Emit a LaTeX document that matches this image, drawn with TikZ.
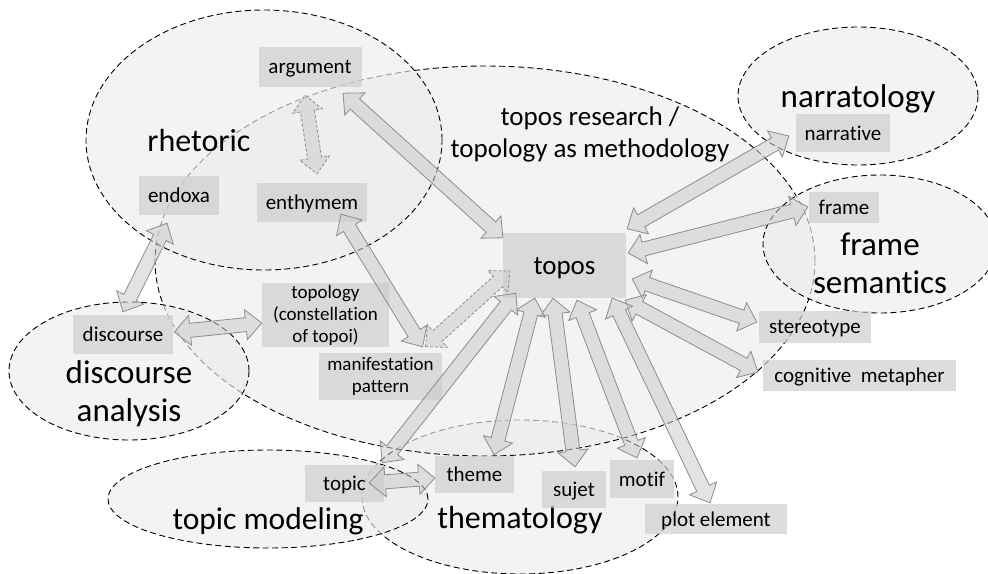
\documentclass[tikz,border=0pt]{standalone}
\usepackage{fontspec}
\setmainfont{Carlito}[Ligatures={NoCommon}]
\usetikzlibrary{calc}

\definecolor{fieldgray}{HTML}{ECECEC}
\definecolor{boxgray}{HTML}{CFCFCF}
\definecolor{arrowfill}{HTML}{CCCCCC}
\definecolor{arrowline}{HTML}{8C8C8C}

\tikzset{
  field/.style={draw=black, line width=0.9pt, dash pattern=on 6pt off 3.5pt,
    fill=fieldgray, fill opacity=0.65},
  boxbase/.style={fill=boxgray, fill opacity=0.7, text opacity=1, inner sep=0pt,
    align=center},
  term/.style={boxbase, text depth=0pt, font=\fontsize{21}{25}\selectfont},
  smallterm/.style={boxbase, font=\fontsize{19}{22}\selectfont},
  heading/.style={inner sep=0pt, align=center, font=\fontsize{33}{38}\selectfont},
  blockarrow/.style={draw=arrowline, line width=0.8pt, fill=arrowfill,
    fill opacity=0.55, line join=miter},
  dashedarrow/.style={dash pattern=on 3pt off 2pt}
}

% double-headed block arrow between two named points
\newcommand\dblarrow[3][]{%
  \draw[blockarrow,#1] (#2)
    -- ($(#2)!16pt!(#3)!15pt!90:(#3)$)
    -- ($(#2)!16pt!(#3)!7pt!90:(#3)$)
    -- ($(#3)!16pt!(#2)!7pt!-90:(#2)$)
    -- ($(#3)!16pt!(#2)!15pt!-90:(#2)$)
    -- (#3)
    -- ($(#3)!16pt!(#2)!15pt!90:(#2)$)
    -- ($(#3)!16pt!(#2)!7pt!90:(#2)$)
    -- ($(#2)!16pt!(#3)!7pt!-90:(#3)$)
    -- ($(#2)!16pt!(#3)!15pt!-90:(#3)$)
    -- cycle;}

\begin{document}
\begin{tikzpicture}[x=1pt, y=-1pt]
\clip (0,0) rectangle (988,573);

% research fields
\draw[field] (520,497) ellipse [x radius=158pt, y radius=77pt];
\draw[field] (485,261) ellipse [x radius=330pt, y radius=195pt];
\draw[field] (264,140) ellipse [x radius=178pt, y radius=130pt];
\draw[field] (129,371) ellipse [x radius=120pt, y radius=69pt];
\draw[field] (268,499) ellipse [x radius=160pt, y radius=49pt];
\draw[field] (858,96) ellipse [x radius=120pt, y radius=69pt];
\draw[field] (880,244) ellipse [x radius=117pt, y radius=69pt];

% field headings
\node[heading, font=\fontsize{32}{38}\selectfont] (rhetoric) at (199,141) {rhetoric};
\node[heading, font=\fontsize{27}{32}\selectfont] (research) at (590,134)
  {topos research /\\topology as methodology};
\node[heading] (narratology) at (858,99) {narratology};
\node[heading] (framesem) at (880,263) {frame\\semantics};
\node[heading] (discanalysis) at (129,394) {discourse\\analysis};
\node[heading, font=\fontsize{31.5}{38}\selectfont] (topicmodeling) at (268,521) {topic modeling};
\node[heading, font=\fontsize{32}{38}\selectfont] (thematology) at (520,520) {thematology};

% concepts
\node[term, minimum width=103pt, minimum height=40pt] (argument) at (310,67) {argument};
\node[term, minimum width=80pt, minimum height=39pt] (endoxa) at (179,195.5) {endoxa};
\node[term, minimum width=110pt, minimum height=39pt] (enthymem) at (312,202.5) {enthymem};
\node[smallterm, minimum width=127pt, minimum height=64pt] (topology) at (325.5,315)
  {topology\\(constellation\\of topoi)};
\node[smallterm, minimum width=123pt, minimum height=47pt] (manifestation) at (380.5,376.5)
  {manifestation\\pattern};
\node[term, minimum width=100pt, minimum height=39pt] (discourse) at (123,334.5) {discourse};
\node[term, minimum width=79pt, minimum height=37pt] (topic) at (344.5,483.5) {topic};
\node[term, minimum width=79pt, minimum height=37pt] (theme) at (474.5,474.5) {theme};
\node[term, minimum width=64pt, minimum height=37pt] (sujet) at (574,489.5) {sujet};
\node[term, minimum width=64pt, minimum height=38pt] (motif) at (642,479) {motif};
\node[term, minimum width=142pt, minimum height=30pt] (plot) at (716,519) {plot element};
\node[term, minimum width=112pt, minimum height=32pt] (stereotype) at (815,327) {stereotype};
\node[term, minimum width=193pt, minimum height=31pt] (cognitive) at (859.5,375.5) {cognitive~ metapher};
\node[term, minimum width=94pt, minimum height=38pt] (narrative) at (843,133) {narrative};
\node[term, minimum width=70pt, minimum height=31pt] (frame) at (844,207.5) {frame};
\node[term, minimum width=123pt, minimum height=65pt, font=\fontsize{27}{32}\selectfont]
  (topos) at (564.5,265.5) {topos};

% arrow ends
\coordinate (argE) at ([shift={(-5,8)}]argument.south);
\coordinate (enthA) at ([shift={(5,-9)}]enthymem.north);
\coordinate (argT) at ([shift={(33,6)}]argument.south);
\coordinate (toposA) at ([shift={(0,5)}]topos.north west);
\coordinate (enthM) at ([shift={(29,-8)}]enthymem.south);
\coordinate (manE) at ([shift={(42,-6)}]manifestation.north);
\coordinate (manT) at ([shift={(45,-6)}]manifestation.north);
\coordinate (toposM) at ([shift={(7,5.5)}]topos.west);
\coordinate (endD) at ([shift={(-12,8)}]endoxa.south);
\coordinate (discE) at ([shift={(0,-3)}]discourse.north);
\coordinate (discT) at ([shift={(1,-2.5)}]discourse.east);
\coordinate (topoD) at ([shift={(0,8)}]topology.west);
\coordinate (toposN) at ([shift={(1,-4)}]topos.north east);
\coordinate (narrT) at ([shift={(-7,3)}]narrative.west);
\coordinate (toposF) at ([shift={(2,-12.5)}]topos.east);
\coordinate (frameT) at ([shift={(-1,-0.5)}]frame.west);
\coordinate (toposS) at ([shift={(6,13.5)}]topos.east);
\coordinate (stereoT) at ([shift={(-2,-5)}]stereotype.west);
\coordinate (toposC) at ([shift={(-1,2)}]topos.south east);
\coordinate (cogT) at ([shift={(-5,-3.5)}]cognitive.west);
\coordinate (toposP) at ([shift={(-14,0)}]topos.south east);
\coordinate (plotT) at ([shift={(-6,-1)}]plot.north);
\coordinate (toposMo) at ([shift={(12.5,2)}]topos.south);
\coordinate (motifT) at ([shift={(-5,-2)}]motif.north);
\coordinate (toposSu) at ([shift={(-11.5,0)}]topos.south);
\coordinate (sujetT) at ([shift={(1,-4)}]sujet.north);
\coordinate (toposTh) at ([shift={(32,0)}]topos.south west);
\coordinate (themeT) at ([shift={(19.5,-1)}]theme.north);
\coordinate (toposTo) at ([shift={(13,-5)}]topos.south west);
\coordinate (topicT) at ([shift={(-2,-2)}]topic.north east);
\coordinate (topicTh) at ([shift={(-15,-0.5)}]topic.east);
\coordinate (themeTo) at ([shift={(0,3.5)}]theme.west);

% relations
\dblarrow[dashedarrow]{argE}{enthA}
\dblarrow{argT}{toposA}
\dblarrow{enthM}{manE}
\dblarrow[dashedarrow]{manT}{toposM}
\dblarrow{endD}{discE}
\dblarrow{discT}{topoD}
\dblarrow{toposN}{narrT}
\dblarrow{toposF}{frameT}
\dblarrow{toposS}{stereoT}
\dblarrow{toposC}{cogT}
\dblarrow{toposP}{plotT}
\dblarrow{toposMo}{motifT}
\dblarrow{toposSu}{sujetT}
\dblarrow{toposTh}{themeT}
\dblarrow{toposTo}{topicT}
\dblarrow{topicTh}{themeTo}
\end{tikzpicture}
\end{document}
